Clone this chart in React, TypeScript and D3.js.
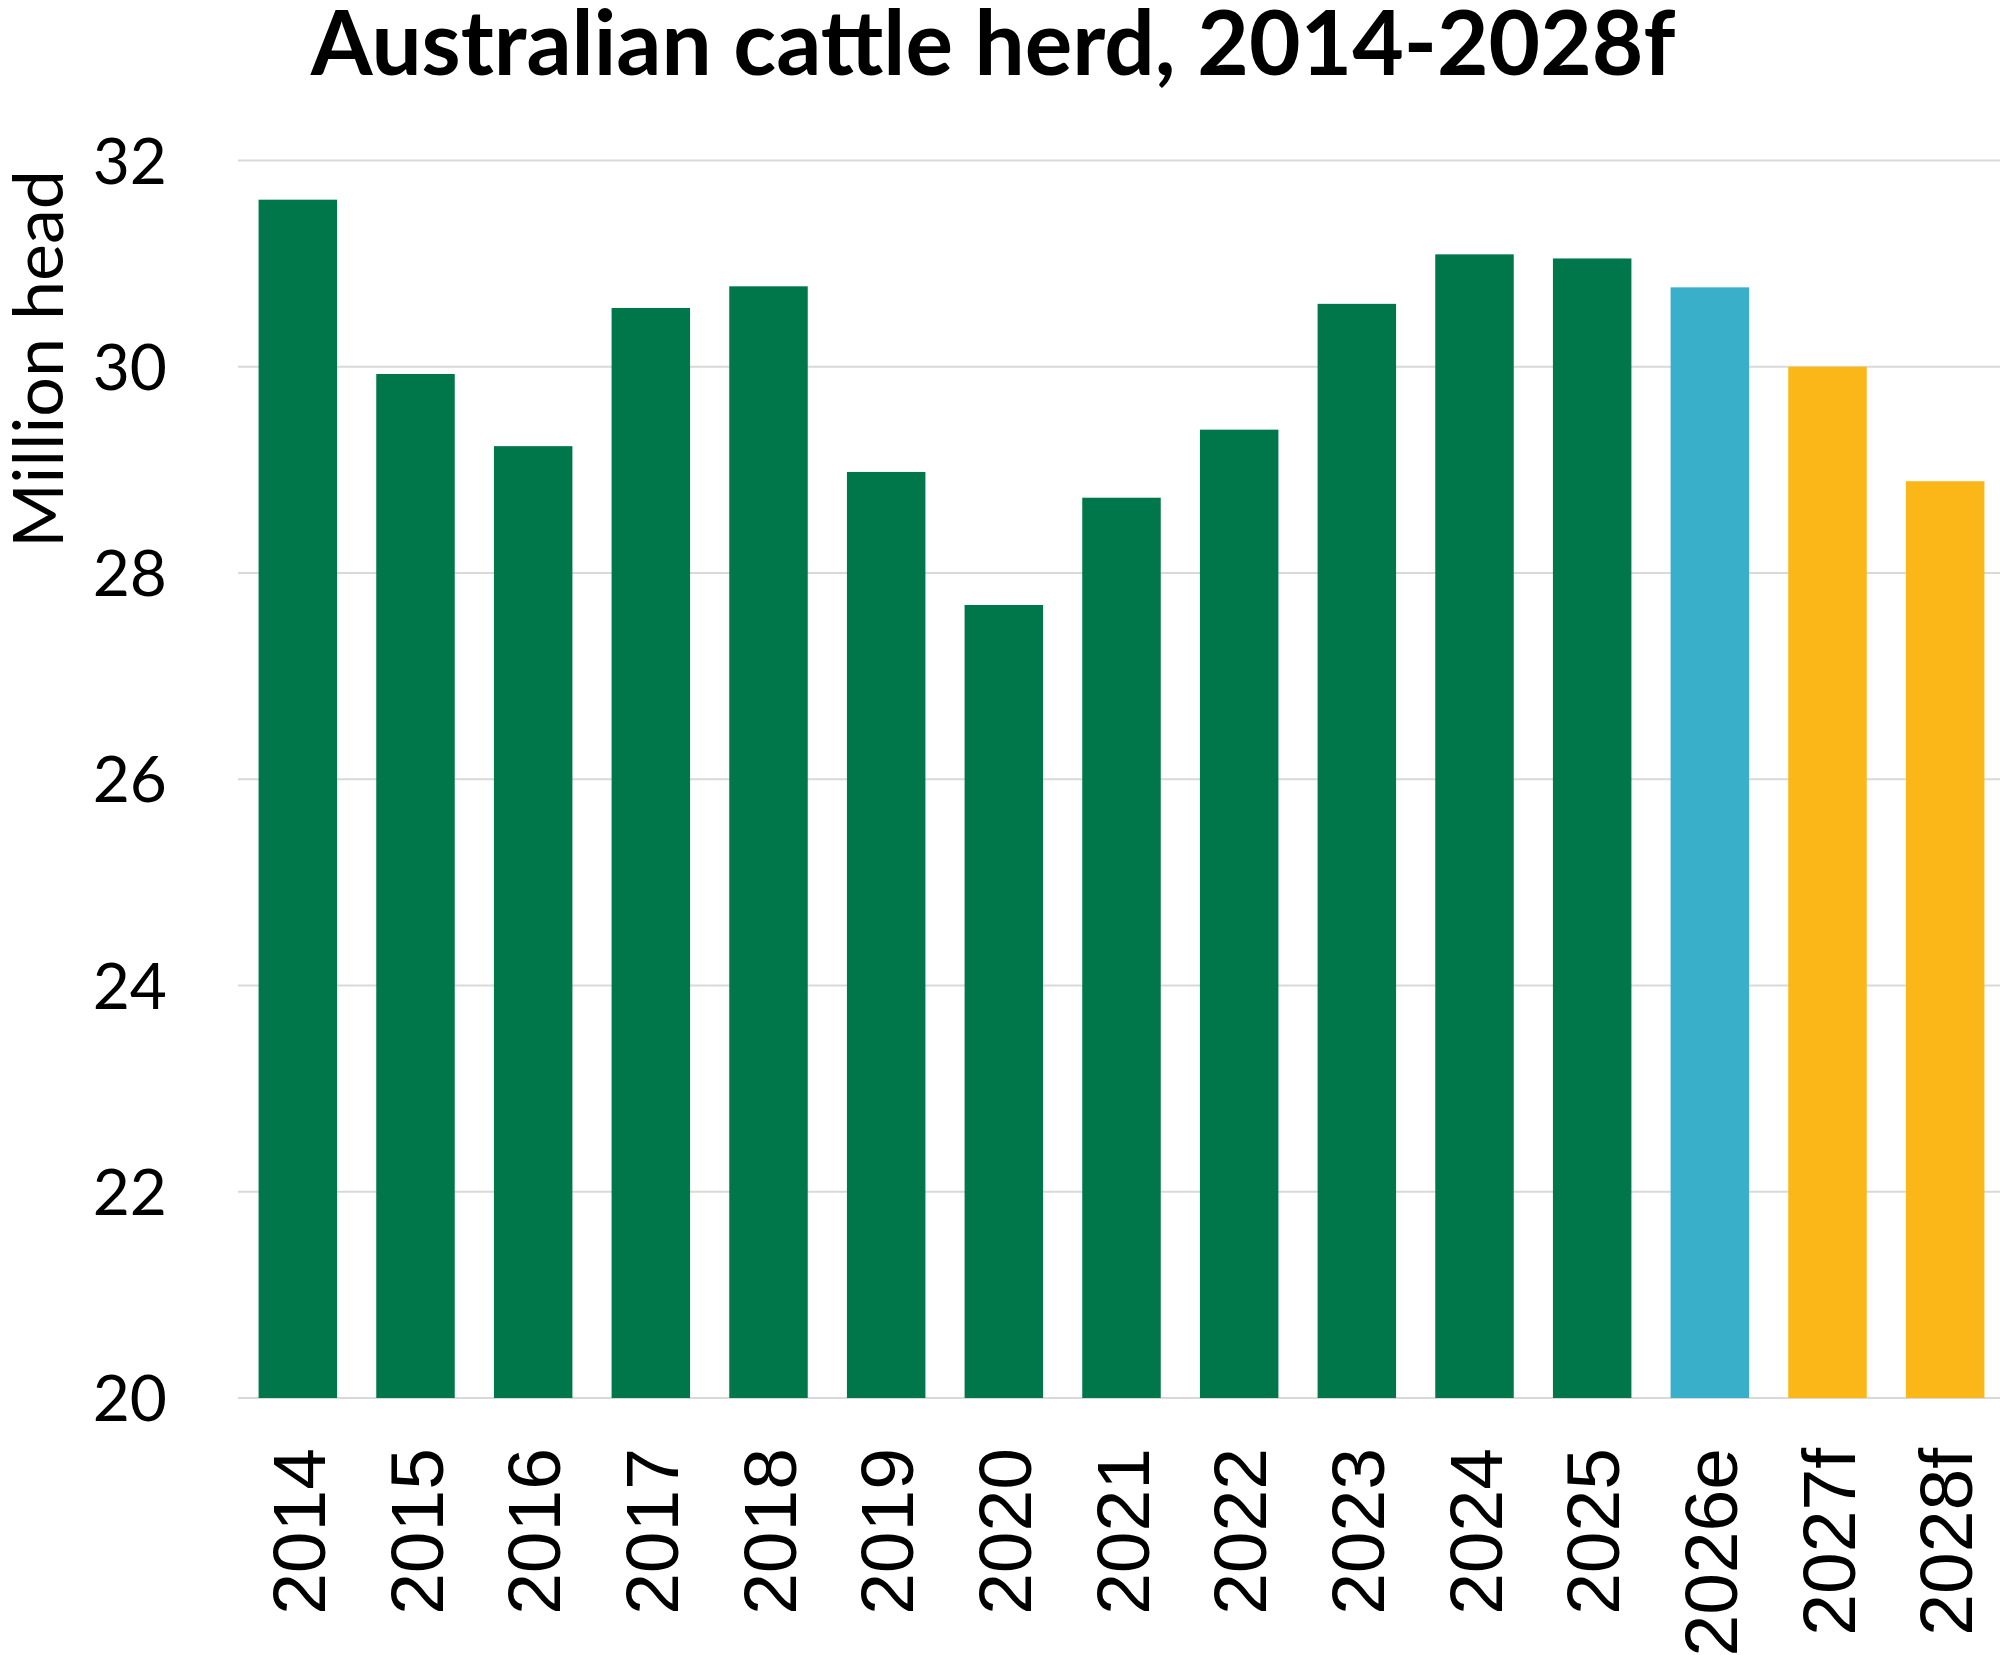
import React from "react";
import * as d3 from "d3";

const categories = ["2014","2015","2016","2017","2018","2019","2020","2021","2022","2023","2024","2025","2026e","2027f","2028f"];
const herdValues = [31.62,29.93,29.23,30.57,30.78,28.98,27.69,28.73,29.39,30.61,31.09,31.05,30.77,30.0,28.89];
const barKinds = ["a","a","a","a","a","a","a","a","a","a","a","a","e","f","f"];
const yTicks = [20,22,24,26,28,30,32];
const kindColors: Record<string,string> = { a: "#00774A", e: "#3AAFC9", f: "#FBB718" };

const W = 2000, H = 1655;

export default function App() {
  const x = d3.scaleBand<string>().domain(categories).range([239, 2004]).paddingInner(0.333).paddingOuter(0.1665);
  const y = d3.scaleLinear().domain([20, 32]).range([1398, 160.5]);
  return (
    <svg width={W} height={H} style={{ position: "absolute", left: 0, top: 0, display: "block", background: "#fff" }}>
      <text x={993} y={75} textAnchor="middle" fontFamily="Lato" fontWeight={700} fontSize={89} fill="#000">
        Australian cattle herd, 2014-2028f
      </text>
      {yTicks.map(t => (
        <g key={t}>
          <line x1={238} x2={2000} y1={y(t)} y2={y(t)} stroke="#D9D9D9" strokeWidth={2} />
          <text x={167} y={y(t)} dy="0.36em" textAnchor="end" fontFamily="Lato" fontSize={64} fill="#000">{t}</text>
        </g>
      ))}
      <text transform={`translate(38,359) rotate(-90)`} dy="0.36em" textAnchor="middle" fontFamily="Lato" fontSize={70} fill="#000">Million head</text>
      {categories.map((c, i) => (
        <rect key={c} x={x(c)} width={x.bandwidth()} y={y(herdValues[i])} height={y(20) - y(herdValues[i])} fill={kindColors[barKinds[i]]} />
      ))}
      {categories.map(c => (
        <text key={c} transform={`translate(${(x(c) as number) + x.bandwidth() / 2},1448) rotate(-90)`} dy="0.36em" textAnchor="end" fontFamily="Liberation Sans" fontSize={75} fill="#000">{c}</text>
      ))}
    </svg>
  );
}
